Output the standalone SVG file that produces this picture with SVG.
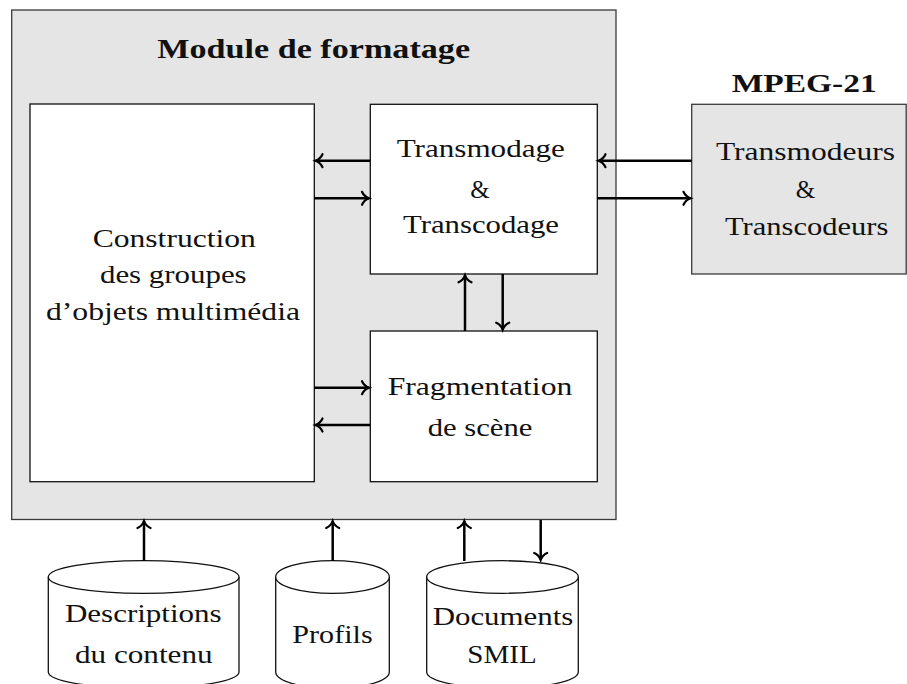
<svg xmlns="http://www.w3.org/2000/svg" width="907" height="684" viewBox="0 0 907 684">
<defs>
<style>
.gray{fill:#e5e5e5;stroke:#3a3a3a;stroke-width:1.3}
.box{fill:#ffffff;stroke:#111;stroke-width:1.3}
.cyl{fill:#ffffff;stroke:#111;stroke-width:1.3}
.t{font-family:"Liberation Serif","Times New Roman",serif;font-size:25px;fill:#111;text-anchor:middle}
.b{font-weight:bold}
.arr{stroke:#000;stroke-width:2.5;fill:none}
</style>
<marker id="ah" markerUnits="userSpaceOnUse" markerWidth="20" markerHeight="20" viewBox="-10 -10 20 20" refX="0" refY="0" orient="auto">
<path d="M-7,-6.5 C-5.5,-3 -2.5,-0.9 0,0 C-2.5,0.9 -5.5,3 -7,6.5" fill="none" stroke="#000" stroke-width="2.2" stroke-linecap="round"/>
</marker>
</defs>

<g id="module">
<rect class="gray" x="11.7" y="10" width="604.3" height="509.5"/>
<text class="t b" x="313.7" y="58.3" style="font-size:27px" textLength="312.7" lengthAdjust="spacingAndGlyphs">Module de formatage</text>
</g>

<g id="mpeg21">
<text class="t b" x="804.2" y="91.7" textLength="145" lengthAdjust="spacingAndGlyphs">MPEG-21</text>
<rect class="gray" x="691.7" y="104.3" width="214.5" height="169.7"/>
<text class="t" x="805.5" y="160" textLength="179" lengthAdjust="spacingAndGlyphs">Transmodeurs</text>
<text class="t" x="805.5" y="198.3">&amp;</text>
<text class="t" x="806.7" y="235" textLength="163.3" lengthAdjust="spacingAndGlyphs">Transcodeurs</text>
</g>

<g id="construction">
<rect class="box" x="30" y="104" width="284.3" height="377.7"/>
<text class="t" x="174.3" y="246.7" textLength="163.3" lengthAdjust="spacingAndGlyphs">Construction</text>
<text class="t" x="173.3" y="283" textLength="146.7" lengthAdjust="spacingAndGlyphs">des groupes</text>
<text class="t" x="173" y="320" textLength="254" lengthAdjust="spacingAndGlyphs">d’objets multimédia</text>
</g>

<g id="transmodage">
<rect class="box" x="370.3" y="104.3" width="227" height="169.7"/>
<text class="t" x="480.8" y="156.7" textLength="168.3" lengthAdjust="spacingAndGlyphs">Transmodage</text>
<text class="t" x="480" y="198.3">&amp;</text>
<text class="t" x="481" y="233.3" textLength="156" lengthAdjust="spacingAndGlyphs">Transcodage</text>
</g>

<g id="fragmentation">
<rect class="box" x="370.3" y="331" width="227" height="150.7"/>
<text class="t" x="480" y="395" textLength="184.7" lengthAdjust="spacingAndGlyphs">Fragmentation</text>
<text class="t" x="480" y="435.7" textLength="104.7" lengthAdjust="spacingAndGlyphs">de scène</text>
</g>

<g id="descriptions">
<path class="cyl" d="M48.3,577 L48.3,672 A95.35,16.3 0 0 0 239,672 L239,577 A95.35,16.3 0 0 0 48.3,577 Z"/>
<path class="cyl" d="M48.3,577 A95.35,16.3 0 0 0 239,577"/>
<text class="t" x="143.3" y="621.7" textLength="156.7" lengthAdjust="spacingAndGlyphs">Descriptions</text>
<text class="t" x="143.8" y="663.3" textLength="137.7" lengthAdjust="spacingAndGlyphs">du contenu</text>
</g>

<g id="profils">
<path class="cyl" d="M275.7,577 L275.7,672 A56.8,16.3 0 0 0 389.3,672 L389.3,577 A56.8,16.3 0 0 0 275.7,577 Z"/>
<path class="cyl" d="M275.7,577 A56.8,16.3 0 0 0 389.3,577"/>
<text class="t" x="332.5" y="643.3" textLength="80.3" lengthAdjust="spacingAndGlyphs">Profils</text>
</g>

<g id="smil">
<path class="cyl" d="M426.7,577 L426.7,672 A75.8,16.3 0 0 0 578.3,672 L578.3,577 A75.8,16.3 0 0 0 426.7,577 Z"/>
<path class="cyl" d="M426.7,577 A75.8,16.3 0 0 0 578.3,577"/>
<text class="t" x="503" y="625" textLength="140.7" lengthAdjust="spacingAndGlyphs">Documents</text>
<text class="t" x="502" y="663.3" textLength="69.3" lengthAdjust="spacingAndGlyphs">SMIL</text>
</g>

<g id="connectors">
<line class="arr" x1="370.3" y1="160.7" x2="315.5" y2="160.7" marker-end="url(#ah)"/>
<line class="arr" x1="314.3" y1="198.3" x2="369" y2="198.3" marker-end="url(#ah)"/>
<line class="arr" x1="691.7" y1="160.7" x2="598.5" y2="160.7" marker-end="url(#ah)"/>
<line class="arr" x1="597.3" y1="198.3" x2="690.5" y2="198.3" marker-end="url(#ah)"/>
<line class="arr" x1="465" y1="331" x2="465" y2="275.3" marker-end="url(#ah)"/>
<line class="arr" x1="502.7" y1="274" x2="502.7" y2="329.7" marker-end="url(#ah)"/>
<line class="arr" x1="314.3" y1="387.7" x2="369" y2="387.7" marker-end="url(#ah)"/>
<line class="arr" x1="370.3" y1="425" x2="315.5" y2="425" marker-end="url(#ah)"/>
<line class="arr" x1="144" y1="561" x2="144" y2="521" marker-end="url(#ah)"/>
<line class="arr" x1="332.7" y1="561" x2="332.7" y2="521" marker-end="url(#ah)"/>
<line class="arr" x1="464.3" y1="561" x2="464.3" y2="521" marker-end="url(#ah)"/>
<line class="arr" x1="540.7" y1="520" x2="540.7" y2="560" marker-end="url(#ah)"/>
</g>
</svg>
